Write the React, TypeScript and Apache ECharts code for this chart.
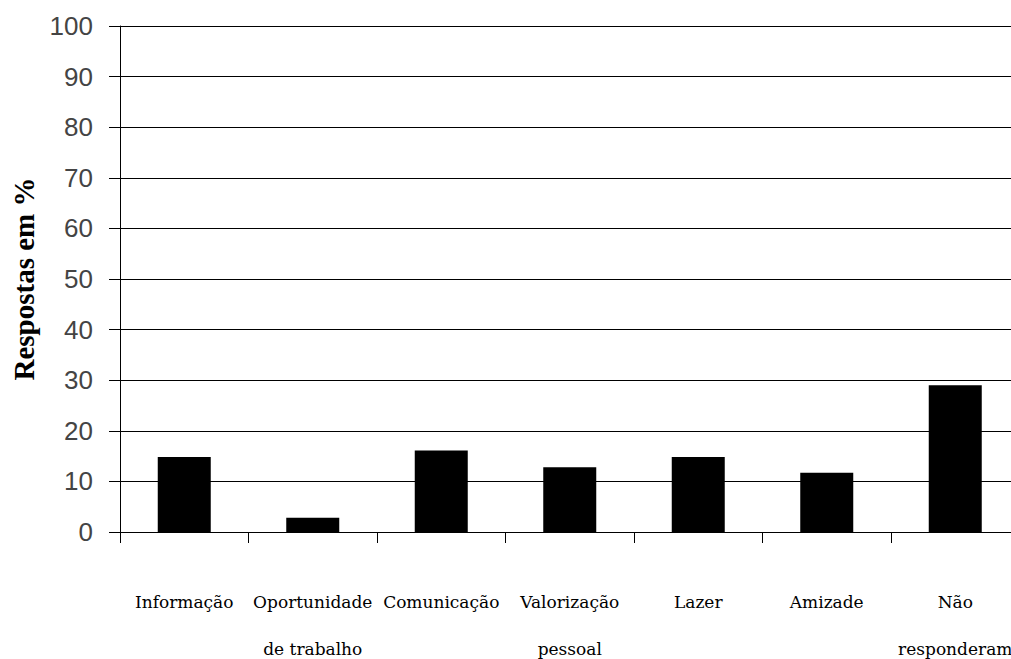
import React, { useEffect, useRef } from "react";
import * as echarts from "echarts";

const categories = [
  "Informação",
  "Oportunidade\nde trabalho",
  "Comunicação",
  "Valorização\npessoal",
  "Lazer",
  "Amizade",
  "Não\nresponderam",
];
const values = [14.8, 2.8, 16.1, 12.8, 14.8, 11.7, 29.0];
const yTitle = "Respostas em %";

export default function App() {
  const ref = useRef<HTMLDivElement>(null);
  useEffect(() => {
    if (!ref.current) return;
    const chart = echarts.init(ref.current, null, { renderer: "svg" });
    chart.setOption({
      animation: false,
      backgroundColor: "#ffffff",
      grid: {
        left: 120,
        top: 26,
        height: 506,
        width: 899.5,
        containLabel: false,
        outerBoundsMode: "none",
      },
      xAxis: {
        type: "category",
        data: categories,
        boundaryGap: true,
        axisLine: { show: true, lineStyle: { color: "#000", width: 1 } },
        axisTick: { show: true, length: 11, interval: 0, lineStyle: { color: "#000" } },
        axisLabel: {
          interval: 0,
          margin: 46,
          color: "#000",
          fontFamily: "DejaVu Serif",
          fontSize: 17,
          lineHeight: 47,
        },
        splitLine: { show: false },
      },
      yAxis: {
        type: "value",
        min: 0,
        max: 100,
        interval: 10,
        name: yTitle,
        nameLocation: "middle",
        nameGap: 71,
        nameRotate: 90,
        nameTextStyle: {
          fontFamily: "Liberation Serif",
          fontWeight: "bold",
          fontSize: 29,
          color: "#000",
        },
        axisLine: { show: true, lineStyle: { color: "#000", width: 1 } },
        axisTick: { show: true, length: 11, lineStyle: { color: "#000" } },
        axisLabel: {
          margin: 27,
          color: "#444",
          fontFamily: "Liberation Sans",
          fontSize: 26,
        },
        splitLine: { show: true, lineStyle: { color: "#000", width: 1 } },
      },
      series: [
        {
          type: "bar",
          data: values,
          barWidth: 53,
          itemStyle: { color: "#000" },
        },
      ],
    });
    return () => chart.dispose();
  }, []);
  return (
    <div
      ref={ref}
      style={{ position: "absolute", left: 0, top: 0, width: 1011, height: 659 }}
    />
  );
}
